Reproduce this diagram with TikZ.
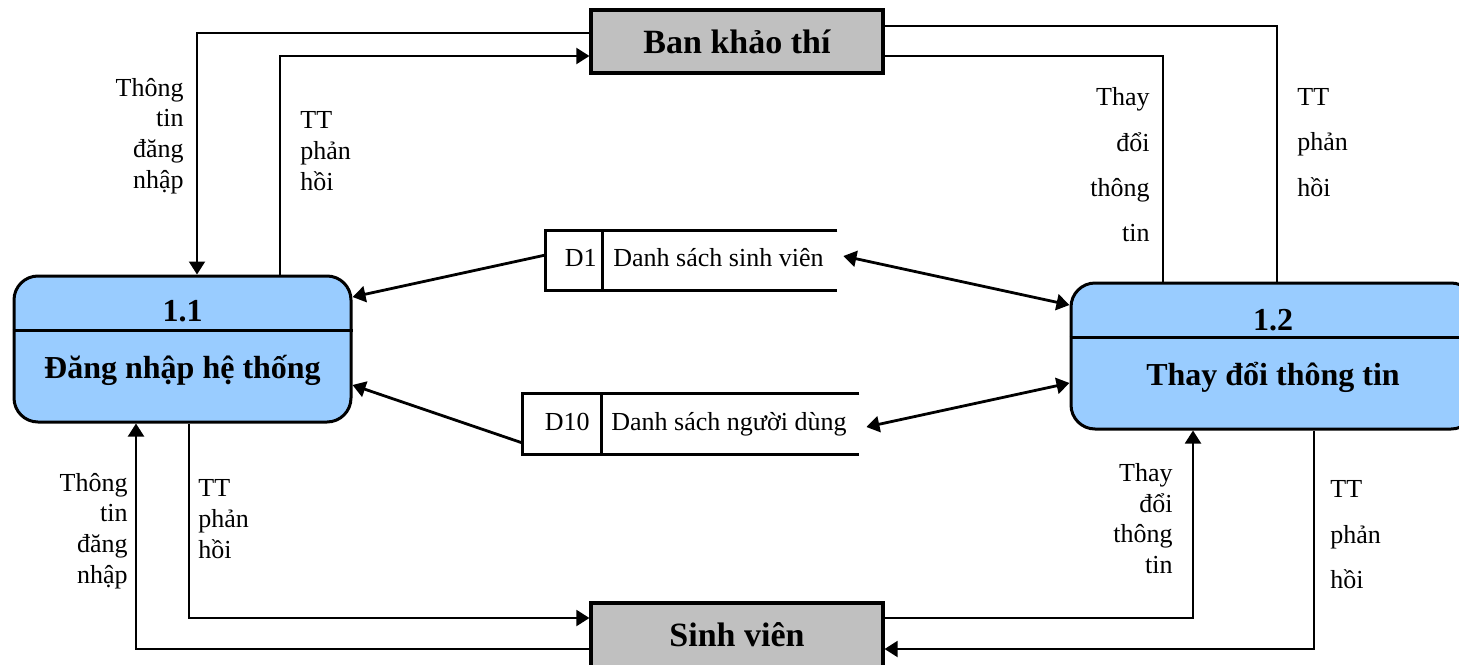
\documentclass[tikz,border=0pt]{standalone}
\usepackage{fontspec}
\setmainfont{Liberation Serif}
\usetikzlibrary{arrows.meta}
\definecolor{procblue}{RGB}{153,204,255}
\definecolor{extgray}{RGB}{192,192,192}
\begin{document}
\begin{tikzpicture}[x=0.5pt,y=-0.5pt,
  ext/.style={draw,line width=1.6pt,fill=extgray,minimum width=146pt,inner sep=0pt,
    font=\fontsize{17}{20}\selectfont\bfseries},
  proc/.style={draw,line width=1.5pt,fill=procblue,rounded corners=12pt,inner sep=0pt},
  ptext/.style={font=\fontsize{16}{19}\selectfont\bfseries,inner sep=0pt,anchor=base},
  lbl/.style={font=\fontsize{13}{15.4}\selectfont,inner sep=0pt},
  wide/.style={font=\fontsize{13}{22.7}\selectfont,inner sep=0pt},
  stxt/.style={font=\fontsize{13}{15}\selectfont,inner sep=0pt},
  storebox/.style={inner sep=0pt},
  storeline/.style={line width=1.25pt},
  tip/.tip={Triangle[length=6.5pt,width=8pt]},
  flow/.style={line width=1pt,-tip},
  link/.style={line width=1pt},
  both/.style={line width=1.4pt,tip-tip},
  single/.style={line width=1.4pt,-tip}
]
\useasboundingbox (0,0) rectangle (1459,664);
\clip (0,0) rectangle (1459,664);

% external entities
\node[ext,minimum height=31.5pt] (ban) at (737,41.5) {Ban khảo thí};
\node[ext,minimum height=32pt] (sv) at (737,635) {Sinh viên};

% processes
\node[proc,minimum width=168.5pt,minimum height=73pt] (p11) at (182.5,349) {};
\draw[line width=1.5pt] ([yshift=-28pt]p11.north west) -- ([yshift=-28pt]p11.north east);
\node[ptext] (p11num) at ([yshift=-23.5pt]p11.north) {1.1};
\node[ptext] (p11name) at ([yshift=-52pt]p11.north) {Đăng nhập hệ thống};

\node[proc,minimum width=202pt,minimum height=73pt] (p12) at (1273,356) {};
\draw[line width=1.5pt] ([yshift=-28pt]p12.north west) -- ([yshift=-28pt]p12.north east);
\node[ptext] (p12num) at ([yshift=-24.5pt]p12.north) {1.2};
\node[ptext] (p12name) at ([yshift=-52pt]p12.north) {Thay đổi thông tin};

% data stores (open on the right)
\node[storebox,minimum width=145.5pt,minimum height=29.5pt] (d1) at (691.5,260.5) {};
\draw[storeline] (d1.north east) -- (d1.north west) -- (d1.south west) -- (d1.south east);
\draw[storeline] ([xshift=28.5pt]d1.north west) -- ([xshift=28.5pt]d1.south west);
\node[stxt,anchor=base east] (d1id) at (597,266) {D1};
\node[stxt,anchor=base west] (d1name) at (613,266) {Danh sách sinh viên};

\node[storebox,minimum width=168pt,minimum height=30pt] (d10) at (691,424) {};
\draw[storeline] (d10.north east) -- (d10.north west) -- (d10.south west) -- (d10.south east);
\draw[storeline] ([xshift=39.5pt]d10.north west) -- ([xshift=39.5pt]d10.south west);
\node[stxt,anchor=base east] (d10id) at (590,430) {D10};
\node[stxt,anchor=base west] (d10name) at (611,430) {Danh sách người dùng};

% flows between Ban khảo thí and 1.1
\draw[flow] ([yshift=4.25pt]ban.west) -| ([xshift=7.25pt]p11.north);
\draw[flow] ([xshift=48.75pt]p11.north) |- ([yshift=-7.25pt]ban.west);
\node[lbl,align=right,anchor=east] (l1) at (184,136) {Thông\\tin\\đăng\\nhập};
\node[lbl,align=left,anchor=west] (l2) at (300,151) {TT\\phản\\hồi};

% flows between Ban khảo thí and 1.2
\draw[link] ([yshift=7.75pt]ban.east) -| ([xshift=2pt]p12.north);
\draw[link] ([yshift=-7.25pt]ban.east) -| ([xshift=-55pt]p12.north);
\node[wide,align=right,anchor=east] (l3) at (1150,165) {Thay\\đổi\\thông\\tin};
\node[wide,align=left,anchor=west] (l4) at (1297,142.5) {TT\\phản\\hồi};

% flows between Sinh viên and 1.1
\draw[flow] ([yshift=-7pt]sv.west) -| ([xshift=-23.25pt]p11.south);
\draw[flow] ([xshift=3.25pt]p11.south) |- ([yshift=8.5pt]sv.west);
\node[lbl,align=right,anchor=east] (l5) at (128,531) {Thông\\tin\\đăng\\nhập};
\node[lbl,align=left,anchor=west] (l6) at (198,519) {TT\\phản\\hồi};

% flows between Sinh viên and 1.2
\draw[flow] ([yshift=8.5pt]sv.east) -| ([xshift=-40pt]p12.south);
\draw[flow] ([xshift=20.5pt]p12.south) |- ([yshift=-7pt]sv.east);
\node[lbl,align=right,anchor=east] (l7) at (1173,518.5) {Thay\\đổi\\thông\\tin};
\node[wide,align=left,anchor=west] (l8) at (1330,535) {TT\\phản\\hồi};

% data store accesses
\draw[single] ([yshift=2.75pt]d1.west) -- ([yshift=26pt]p11.east);
\draw[single] ([yshift=-9.5pt]d10.west) -- ([yshift=-18pt]p11.east);
\draw[both] ([xshift=3pt,yshift=2.25pt]d1.east) -- ([yshift=25.5pt]p12.west);
\draw[both] ([xshift=3.5pt,yshift=-1.5pt]d10.east) -- ([yshift=-13.5pt]p12.west);
\end{tikzpicture}
\end{document}
